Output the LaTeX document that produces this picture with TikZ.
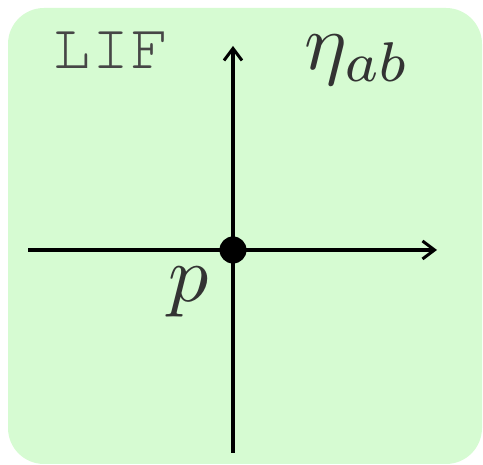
\documentclass[tikz,border=0pt]{standalone}
\usepackage[T1,TU]{fontenc}
\usetikzlibrary{arrows.meta}
\definecolor{bgreen}{RGB}{214,251,210}
\definecolor{txtgray}{RGB}{51,51,51}
\definecolor{ttgray}{RGB}{70,70,70}
\tikzset{
  axisline/.style={line width=3.2pt, black, -{Straight Barb[length=12pt,width=18pt,line width=3pt]}},
  mathlabel/.style={inner sep=0pt, text=txtgray, scale=8},
  ttlabel/.style={inner sep=0pt, text=ttgray, font=\fontencoding{T1}\fontfamily{pcr}\fontsize{65}{70}\selectfont}
}
\begin{document}
\begin{tikzpicture}[x=1pt,y=-1pt]
\useasboundingbox (0,0) rectangle (483,465);
\fill[bgreen, rounded corners=36pt] (8,8) rectangle (482,464);
\coordinate (left) at (28,250);
\coordinate (right) at (437,250);
\coordinate (bottom) at (233,453);
\coordinate (top) at (233,46);
\draw[axisline] (left) -- (right);
\draw[axisline] (bottom) -- (top);
\node[circle, fill=black, minimum size=27pt, inner sep=0pt] (p0) at (233,250) {};
\node[mathlabel, anchor=base west] (plab) at (167,302) {$p$};
\node[mathlabel, anchor=base west] (eta) at (303,70) {$\eta_{ab}$};
\node[ttlabel, anchor=base west] (lif) at (52,69) {LIF};
\end{tikzpicture}
\end{document}
